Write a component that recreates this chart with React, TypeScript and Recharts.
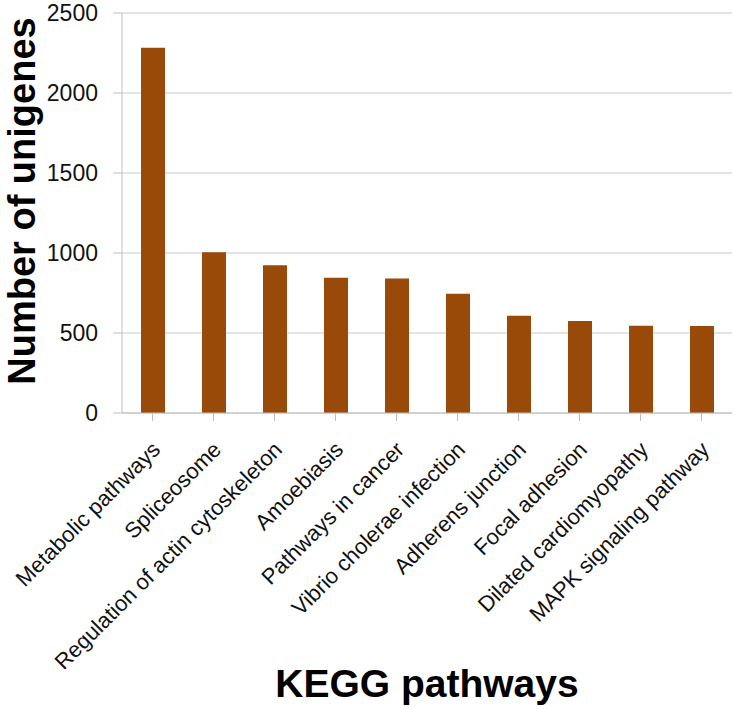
import { BarChart, Bar, XAxis, YAxis, CartesianGrid, Label } from "recharts";

const pathways = [
  "Metabolic pathways",
  "Spliceosome",
  "Regulation of actin cytoskeleton",
  "Amoebiasis",
  "Pathways in cancer",
  "Vibrio cholerae infection",
  "Adherens junction",
  "Focal adhesion",
  "Dilated cardiomyopathy",
  "MAPK signaling pathway",
];
const unigenes = [2283, 1005, 924, 845, 840, 746, 608, 575, 545, 543];
const yTicks = [0, 500, 1000, 1500, 2000, 2500];

const data = pathways.map((name, i) => ({ name, count: unigenes[i] }));

const FONT = "'Liberation Sans', Arial, sans-serif";

function PathwayTick(props: any) {
  const { x, y, payload } = props;
  return (
    <g transform={`translate(${x + 9},${y + 30})`}>
      <text
        transform="rotate(-45)"
        textAnchor="end"
        fontSize={22}
        fontFamily={FONT}
        fill="#111"
      >
        {payload.value}
      </text>
    </g>
  );
}

export default function App() {
  return (
    <div style={{ position: "absolute", left: 0, top: 0, background: "#fff" }}>
      <BarChart
        width={738}
        height={709}
        data={data}
        margin={{ top: 13, right: 6, left: 0, bottom: 0 }}
      >
        <CartesianGrid vertical={false} stroke="#c9c9c9" />
        <XAxis
          dataKey="name"
          height={296}
          interval={0}
          tickSize={8}
          tickMargin={0}
          stroke="#bdbdbd"
          tick={<PathwayTick />}
        >
          <Label
            content={({ viewBox }: any) => (
              <text
                x={viewBox.x + viewBox.width / 2}
                y={viewBox.y + 284}
                textAnchor="middle"
                fontSize={39}
                fontWeight="bold"
                fontFamily={FONT}
                fill="#000"
              >
                KEGG pathways
              </text>
            )}
          />
        </XAxis>
        <YAxis
          width={122}
          domain={[0, 2500]}
          ticks={yTicks}
          tickSize={9}
          tickMargin={15}
          stroke="#bdbdbd"
          tick={{ fontSize: 23, fontFamily: FONT, fill: "#111" }}
        >
          <Label
            content={({ viewBox }: any) => (
              <text
                transform={`translate(${viewBox.x + 35},${viewBox.y + viewBox.height / 2 - 12}) rotate(-90)`}
                textAnchor="middle"
                fontSize={38}
                fontWeight="bold"
                fontFamily={FONT}
                fill="#000"
              >
                Number of unigenes
              </text>
            )}
          />
        </YAxis>
        <Bar dataKey="count" fill="#994a08" barSize={24} isAnimationActive={false} />
      </BarChart>
    </div>
  );
}
